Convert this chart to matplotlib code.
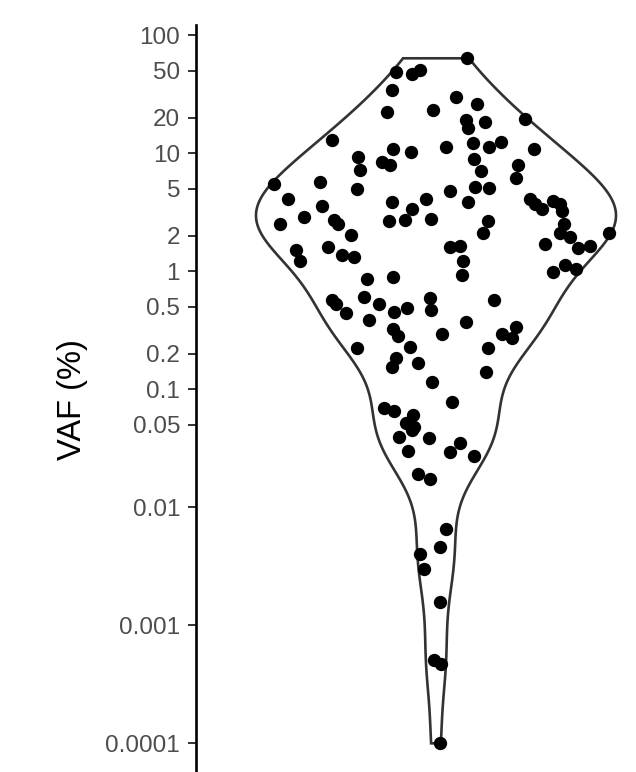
import numpy as np
import matplotlib
matplotlib.use("Agg")
import matplotlib.pyplot as plt

plt.rcParams['font.family'] = ['Liberation Sans', 'DejaVu Sans']

# VAF values (%)
vaf = [63.8, 49.2, 47.0, 50.8, 34.4, 22.5, 23.3, 29.8, 26.2, 19.2,
       16.3, 18.3, 19.4, 12.97, 10.8, 10.3, 11.4, 12.2, 11.2, 12.4,
       10.9, 9.25, 8.44, 7.96, 7.22, 9.0, 7.04, 7.96, 6.14, 5.49,
       5.74, 5.01, 4.79, 5.21, 5.11, 4.07, 3.84, 4.10, 3.87, 4.10,
       3.72, 3.35, 3.94, 3.72, 3.22, 3.60, 3.35, 2.90, 2.72, 2.50,
       2.52, 2.67, 2.72, 2.76, 2.68, 2.50, 2.11, 2.10, 2.03, 2.10,
       1.96, 1.62, 1.65, 1.69, 1.57, 1.65, 1.52, 1.62, 1.23, 1.37,
       1.31, 1.22, 0.93, 0.98, 1.12, 1.05, 0.855, 0.889, 0.597, 0.470,
       0.571, 0.571, 0.528, 0.446, 0.609, 0.528, 0.450, 0.486, 0.387, 0.323,
       0.283, 0.292, 0.374, 0.335, 0.292, 0.274, 0.2226, 0.2296, 0.2226, 0.183,
       0.1536, 0.168, 0.141, 0.1147, 0.0785, 0.0698, 0.0659, 0.0606, 0.0515, 0.0482,
       0.0452, 0.0397, 0.0385, 0.030, 0.0292, 0.0349, 0.0274, 0.0190, 0.0173, 0.00651,
       0.00458, 0.0040, 0.00298, 0.00157, 0.000508, 0.00047, 0.0001]

# horizontal jitter of each point (category units, relative to the group centre)
jitter = [0.077, -0.100, -0.061, -0.041, -0.111, -0.122, -0.007, 0.049, 0.103, 0.076,
          0.079, 0.123, 0.222, -0.260, -0.107, -0.063, 0.024, 0.092, 0.132, 0.163,
          0.245, -0.195, -0.135, -0.114, -0.191, 0.096, 0.113, 0.206, 0.201, -0.405,
          -0.289, -0.198, 0.036, 0.098, 0.132, -0.369, -0.110, -0.024, 0.080, 0.236,
          0.247, 0.264, 0.293, 0.310, 0.315, -0.286, -0.061, -0.329, -0.254, -0.244,
          -0.390, -0.118, -0.078, -0.012, 0.131, 0.320, 0.432, 0.117, -0.213, 0.310,
          0.335, 0.036, 0.061, 0.272, 0.354, 0.386, -0.349, -0.269, -0.340, -0.235,
          -0.204, 0.067, 0.065, 0.293, 0.322, 0.350, -0.173, -0.108, -0.015, -0.012,
          0.144, -0.260, -0.250, -0.224, -0.179, -0.143, -0.104, -0.073, -0.167, -0.108,
          -0.096, 0.016, 0.076, 0.199, 0.165, 0.191, -0.198, -0.065, 0.130, -0.100,
          -0.111, -0.046, 0.126, -0.011, 0.041, -0.129, -0.106, -0.058, -0.075, -0.054,
          -0.060, -0.093, -0.018, -0.071, 0.036, 0.061, 0.096, -0.046, -0.014, 0.024,
          0.011, -0.039, -0.029, 0.011, -0.006, 0.013, 0.009]

yticks = [100, 50, 20, 10, 5, 2, 1, 0.5, 0.2, 0.1, 0.05, 0.01, 0.001, 0.0001]
ytick_labels = ["100", "50", "20", "10", "5", "2", "1", "0.5", "0.2", "0.1",
                "0.05", "0.01", "0.001", "0.0001"]
ylabel = "VAF (%)"

vaf = np.array(vaf)
jitter = np.array(jitter)
center = 1.0

# violin: gaussian KDE on log10 scale (bw.nrd0), trimmed to data range
logv = np.log10(vaf)
n = len(logv)
sd = np.std(logv, ddof=1)
q75, q25 = np.percentile(logv, [75, 25])
bw = 0.9 * min(sd, (q75 - q25) / 1.34) * n ** (-0.2)
grid = np.linspace(logv.min(), logv.max(), 512)
dens = np.exp(-0.5 * ((grid[:, None] - logv[None, :]) / bw) ** 2).sum(axis=1)
half = 0.45 * dens / dens.max()

fig = plt.figure(figsize=(6.36, 7.72), dpi=100)
ax = fig.add_axes([196 / 636, 0, 440 / 636, 747 / 772])
ax.set_yscale('log')
ax.set_xlim(0.4, 1.5)
ax.set_ylim(10 ** -4.243, 10 ** 2.087)

xs = np.concatenate([center - half, (center + half)[::-1]])
ys = np.concatenate([10 ** grid, (10 ** grid)[::-1]])
ax.fill(xs, ys, facecolor='white', edgecolor='#333333', linewidth=1.9, zorder=2)

ax.scatter(center + jitter, vaf, s=92, color='black', linewidths=0, zorder=3)

ax.set_yticks(yticks)
ax.set_yticklabels(ytick_labels)
ax.yaxis.set_minor_locator(matplotlib.ticker.NullLocator())
ax.tick_params(axis='y', length=5.5, width=1.4, color='#333333',
               labelsize=17.5, labelcolor='#4D4D4D', pad=6)
ax.set_xticks([])
for s in ['top', 'right', 'bottom']:
    ax.spines[s].set_visible(False)
ax.spines['left'].set_linewidth(1.9)
ax.spines['left'].set_color('black')

ax.set_ylabel(ylabel, fontsize=23.5, color='black', va='center')
ax.yaxis.set_label_coords((72 - 196) / 440, (772 - 400) / 747)

fig.savefig('out.png', dpi=100)
